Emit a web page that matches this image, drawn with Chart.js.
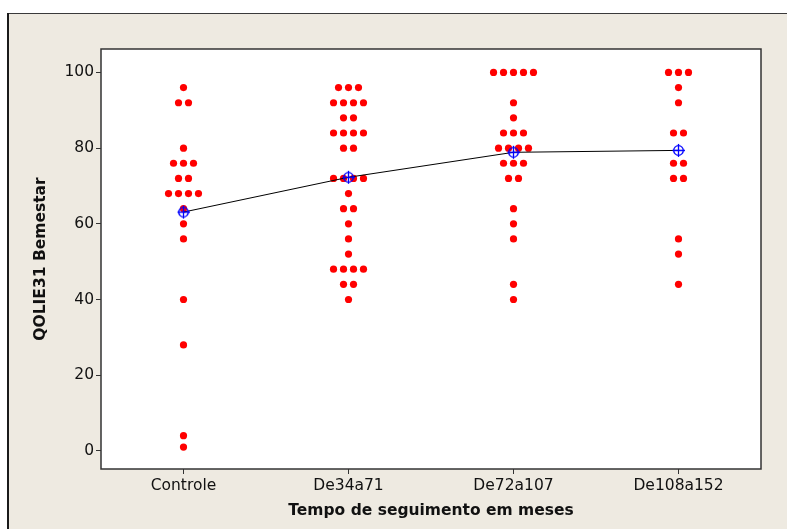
<!DOCTYPE html>
<html>
<head>
<meta charset="utf-8">
<script src="https://cdn.jsdelivr.net/npm/chart.js@4/dist/chart.umd.min.js"></script>
<style>
  html, body { margin: 0; padding: 0; background: #ffffff; }
  #chart { display: block; }
</style>
</head>
<body>
<canvas id="chart" width="787" height="529"></canvas>
<script>
// Groups on the horizontal axis
const categories = ['Controle', 'De34a71', 'De72a107', 'De108a152'];

// Individual QOLIE31 Bemestar scores per group
const controle = [96, 92, 92, 80, 76, 76, 76, 72, 72, 68, 68, 68, 68, 64, 60, 56, 40, 28, 4, 1];
const de34a71 = [96, 96, 96, 92, 92, 92, 92, 88, 88, 84, 84, 84, 84, 80, 80,
                 72, 72, 72, 72, 68, 64, 64, 60, 56, 52, 48, 48, 48, 48, 44, 44, 40];
const de72a107 = [100, 100, 100, 100, 100, 92, 88, 84, 84, 84, 80, 80, 80, 80,
                  76, 76, 76, 72, 72, 64, 60, 56, 44, 40];
const de108a152 = [100, 100, 100, 96, 92, 84, 84, 76, 76, 72, 72, 56, 52, 44];

// Group means joined by the connect line
const groupMeans = [63.1, 72.3, 78.9, 79.4];

// Y axis tick values
const yTicks = [0, 20, 40, 60, 80, 100];

const groups = [controle, de34a71, de72a107, de108a152];

// Spread equal values side by side around the group position
const SPREAD = 0.0605;
const dotPoints = [];
groups.forEach((vals, gi) => {
  const counts = {};
  vals.forEach(v => { counts[v] = (counts[v] || 0) + 1; });
  const seen = {};
  vals.forEach(v => {
    const n = counts[v];
    const k = seen[v] || 0;
    seen[v] = k + 1;
    dotPoints.push({ x: gi + (k - (n - 1) / 2) * SPREAD, y: v });
  });
});

const meanPoints = groupMeans.map((m, i) => ({ x: i, y: m }));

// Circle-with-cross symbol for the means
const meanSymbol = document.createElement('canvas');
meanSymbol.width = 15; meanSymbol.height = 15;
(function () {
  const c = meanSymbol.getContext('2d');
  c.strokeStyle = '#0000ff';
  c.lineWidth = 1.3;
  c.beginPath(); c.arc(7.5, 7.5, 4.8, 0, Math.PI * 2); c.stroke();
  c.beginPath();
  c.moveTo(7.5, 1); c.lineTo(7.5, 14);
  c.moveTo(1.5, 7.5); c.lineTo(14, 7.5);
  c.stroke();
})();

const FONT = 'DejaVu Sans, Verdana, sans-serif';

const framePlugin = {
  id: 'frame',
  beforeDraw(chart) {
    const { ctx, chartArea: a } = chart;
    ctx.save();
    ctx.fillStyle = '#ffffff';
    ctx.fillRect(0, 0, chart.width, chart.height);
    ctx.fillStyle = '#eeeae1';
    ctx.fillRect(7, 13, chart.width - 7, chart.height - 13);
    ctx.strokeStyle = '#3a3a3a';
    ctx.lineWidth = 1;
    ctx.beginPath(); ctx.moveTo(7, 13.5); ctx.lineTo(chart.width, 13.5); ctx.stroke();
    ctx.strokeStyle = '#1a1a1a';
    ctx.lineWidth = 2;
    ctx.beginPath(); ctx.moveTo(8, 13); ctx.lineTo(8, chart.height); ctx.stroke();
    ctx.fillStyle = '#ffffff';
    ctx.fillRect(a.left, a.top, a.right - a.left, a.bottom - a.top);
    ctx.restore();
  },
  afterDraw(chart) {
    const { ctx, chartArea: a } = chart;
    ctx.save();
    ctx.strokeStyle = '#333333';
    ctx.lineWidth = 1.5;
    ctx.strokeRect(a.left, a.top, a.right - a.left, a.bottom - a.top);
    ctx.restore();
  }
};

new Chart(document.getElementById('chart'), {
  type: 'scatter',
  data: {
    datasets: [
      {
        label: 'Média',
        data: meanPoints,
        showLine: true,
        borderColor: '#000000',
        borderWidth: 1,
        pointStyle: meanSymbol,
        pointRadius: 6,
        order: 0
      },
      {
        label: 'QOLIE31 Bemestar',
        data: dotPoints,
        backgroundColor: '#ff0000',
        borderWidth: 0,
        pointRadius: 3.6,
        pointHoverRadius: 3.6,
        order: 1
      }
    ]
  },
  options: {
    responsive: false,
    animation: false,
    events: [],
    layout: { padding: { left: 0, top: 49, right: 26, bottom: 0 } },
    plugins: { legend: { display: false }, tooltip: { enabled: false } },
    scales: {
      x: {
        type: 'linear',
        min: -0.5,
        max: 3.5,
        afterBuildTicks(scale) { scale.ticks = categories.map((_, i) => ({ value: i })); },
        afterFit(scale) { scale.height = 60; },
        ticks: {
          callback: (v) => categories[v],
          color: '#111111',
          font: { family: FONT, size: 15.5 },
          padding: 3,
          maxRotation: 0,
          autoSkip: false
        },
        grid: { drawOnChartArea: false, color: '#333333', tickLength: 5, tickWidth: 1 },
        border: { display: false },
        title: {
          display: true,
          text: 'Tempo de seguimento em meses',
          color: '#111111',
          font: { family: FONT, size: 15.5, weight: 'bold' },
          padding: { top: 0, bottom: 9 }
        }
      },
      y: {
        type: 'linear',
        min: -4.8,
        max: 106.2,
        afterBuildTicks(scale) { scale.ticks = yTicks.map(v => ({ value: v })); },
        afterFit(scale) { scale.width = 101; },
        ticks: {
          color: '#111111',
          font: { family: FONT, size: 15.5 },
          padding: 2
        },
        grid: { drawOnChartArea: false, color: '#333333', tickLength: 5, tickWidth: 1 },
        border: { display: false },
        title: {
          display: true,
          text: 'QOLIE31 Bemestar',
          color: '#111111',
          font: { family: FONT, size: 15.5, weight: 'bold' },
          padding: { top: 32, bottom: 0 }
        }
      }
    }
  },
  plugins: [framePlugin]
});
</script>
</body>
</html>
